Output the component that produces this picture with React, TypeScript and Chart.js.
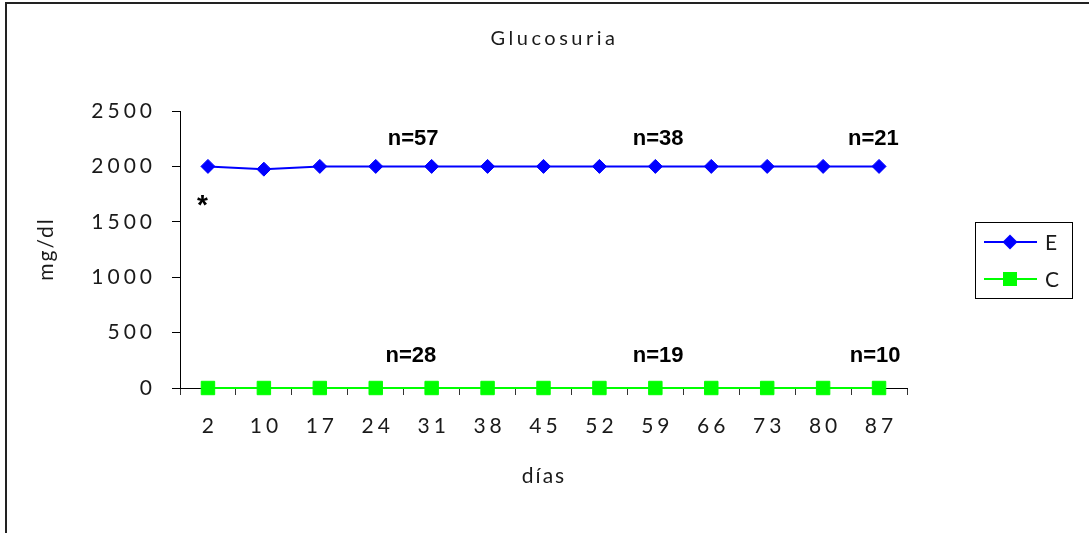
import React, { useEffect, useRef } from 'react';
import { Chart, registerables } from 'chart.js';
Chart.register(...registerables);

const days = ['2', '10', '17', '24', '31', '38', '45', '52', '59', '66', '73', '80', '87'];
const seriesE = [2000, 1975, 2000, 2000, 2000, 2000, 2000, 2000, 2000, 2000, 2000, 2000, 2000];
const seriesC = [0, 0, 0, 0, 0, 0, 0, 0, 0, 0, 0, 0, 0];
const yMin = 0;
const yMax = 2500;
const yStep = 500;
const countsE = ['n=57', 'n=38', 'n=21'];
const countsC = ['n=28', 'n=19', 'n=10'];
const countIndexE = [3.67, 8.05, 11.9];
const countIndexC = [3.63, 8.05, 11.93];
const countValueE = 2250;
const countValueC = 290;
const starIndex = -0.1;
const starValue = 1700;

const TXT = 'Lato, "Open Sans", sans-serif';

const deco = {
  id: 'deco',
  beforeDraw(chart: any) {
    chart.ctx.letterSpacing = '4px';
  },
  afterDraw(chart: any) {
    const ctx = chart.ctx as CanvasRenderingContext2D;
    const xs = chart.scales.x;
    const ys = chart.scales.y;
    ctx.save();
    (ctx as any).letterSpacing = '0px';
    // outer frame
    ctx.strokeStyle = '#222';
    ctx.lineWidth = 2;
    ctx.beginPath();
    ctx.moveTo(6, chart.height);
    ctx.lineTo(6, 3);
    ctx.lineTo(chart.width, 3);
    ctx.stroke();

    ctx.fillStyle = '#1a1a1a';
    // title
    ctx.font = `20px ${TXT}`;
    (ctx as any).letterSpacing = '3.5px';
    ctx.textAlign = 'center';
    ctx.textBaseline = 'middle';
    ctx.fillText('Glucosuria', 554.5, 39);
    // x title
    ctx.font = `21px ${TXT}`;
    (ctx as any).letterSpacing = '2px';
    ctx.fillText('días', 544, 476);
    // y title
    ctx.save();
    ctx.translate(46, 250);
    ctx.rotate(-Math.PI / 2);
    ctx.fillText('mg/dl', 1, 0);
    ctx.restore();

    // n annotations
    (ctx as any).letterSpacing = '0px';
    ctx.fillStyle = '#000';
    ctx.font = 'bold 22px "Liberation Sans", Arial, sans-serif';
    countsE.forEach((t, i) => {
      ctx.fillText(t, xs.getPixelForValue(countIndexE[i]), ys.getPixelForValue(countValueE));
    });
    countsC.forEach((t, i) => {
      ctx.fillText(t, xs.getPixelForValue(countIndexC[i]), ys.getPixelForValue(countValueC));
    });
    ctx.font = 'bold 28px "Liberation Sans", Arial, sans-serif';
    ctx.textBaseline = 'alphabetic';
    ctx.fillText('*', xs.getPixelForValue(starIndex), ys.getPixelForValue(starValue) + 14);

    // legend
    ctx.strokeStyle = '#000';
    ctx.lineWidth = 1;
    ctx.strokeRect(975.5, 222.5, 97, 76);
    const items = chart.data.datasets;
    const rowsY = [242, 279];
    items.forEach((ds: any, i: number) => {
      const yy = rowsY[i];
      ctx.strokeStyle = ds.borderColor;
      ctx.lineWidth = 2;
      ctx.beginPath();
      ctx.moveTo(984, yy);
      ctx.lineTo(1037, yy);
      ctx.stroke();
      ctx.fillStyle = ds.pointBackgroundColor;
      ctx.beginPath();
      if (ds.pointStyle === 'rectRot') {
        const r = 7.5;
        ctx.moveTo(1010 - r, yy);
        ctx.lineTo(1010, yy - r);
        ctx.lineTo(1010 + r, yy);
        ctx.lineTo(1010, yy + r);
        ctx.closePath();
      } else {
        ctx.rect(1003, yy - 7, 14, 14);
      }
      ctx.fill();
      ctx.fillStyle = '#1a1a1a';
      ctx.font = `21px ${TXT}`;
      ctx.textAlign = 'left';
      ctx.textBaseline = 'middle';
      ctx.fillText(ds.label, 1045, yy + 1);
    });
    ctx.restore();
  },
};

export default function App() {
  const ref = useRef<HTMLCanvasElement | null>(null);
  useEffect(() => {
    if (!ref.current) return;
    const chart = new Chart(ref.current, {
      type: 'line',
      data: {
        labels: days,
        datasets: [
          {
            label: 'E',
            data: seriesE,
            borderColor: '#0000ff',
            backgroundColor: '#0000ff',
            pointBackgroundColor: '#0000ff',
            pointBorderColor: '#0000ff',
            borderWidth: 2,
            pointStyle: 'rectRot',
            pointRadius: 7,
            pointBorderWidth: 1,
            tension: 0,
            clip: false,
          } as any,
          {
            label: 'C',
            data: seriesC,
            borderColor: '#00ff00',
            backgroundColor: '#00ff00',
            pointBackgroundColor: '#00ff00',
            pointBorderColor: '#00ff00',
            borderWidth: 2,
            pointStyle: 'rect',
            pointRadius: 9.5,
            pointBorderWidth: 1,
            tension: 0,
            clip: false,
          } as any,
        ],
      },
      options: {
        responsive: false,
        animation: false,
        layout: { padding: { left: 70, right: 182, top: 111, bottom: 85 } },
        plugins: { legend: { display: false }, title: { display: false }, tooltip: { enabled: false } },
        scales: {
          x: {
            type: 'category',
            offset: true,
            afterFit: (s: any) => { s.height = 60; },
            grid: { offset: true, drawOnChartArea: false, drawTicks: true, tickLength: 7, color: '#333' },
            border: { display: true, color: '#000', width: 1 },
            ticks: { font: { family: TXT, size: 21 }, color: '#1a1a1a', padding: 19, labelOffset: 2, maxRotation: 0, autoSkip: false },
          },
          y: {
            min: yMin,
            max: yMax,
            afterFit: (s: any) => { s.width = 110; },
            grid: { drawOnChartArea: false, drawTicks: true, tickLength: 8, color: '#000' },
            border: { display: true, color: '#000', width: 1 },
            ticks: {
              stepSize: yStep,
              font: { family: TXT, size: 21 },
              color: '#1a1a1a',
              padding: 16,
              callback: (v: any) => String(v),
            },
          },
        },
      },
      plugins: [deco],
    });
    return () => chart.destroy();
  }, []);
  return (
    <div style={{ position: 'absolute', left: 0, top: 0, width: 1089, height: 533, background: '#fff' }}>
      <canvas ref={ref} width={1089} height={533} />
    </div>
  );
}
